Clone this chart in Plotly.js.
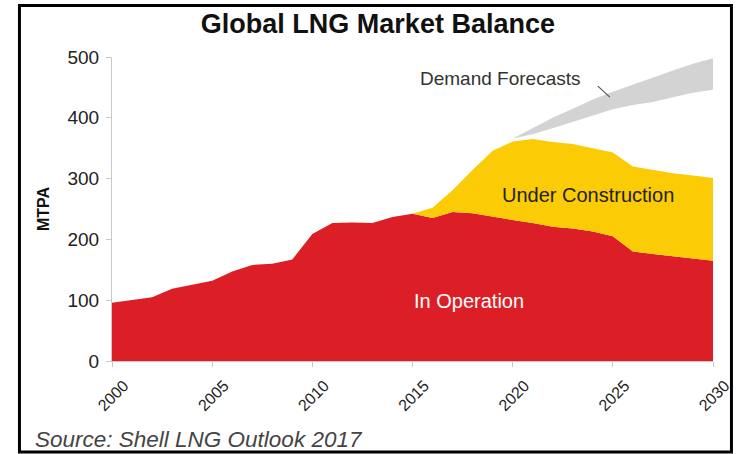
<!DOCTYPE html>
<html>
<head>
<meta charset="utf-8">
<script src="https://cdn.plot.ly/plotly-3.0.1.min.js"></script>
<style>
html,body{margin:0;padding:0;background:#fff;}
#chart{width:741px;height:454px;}
</style>
</head>
<body>
<div id="chart"></div>
<script>
// ---- data ----
const years = [2000,2001,2002,2003,2004,2005,2006,2007,2008,2009,2010,2011,2012,2013,2014,2015,
               2016,2017,2018,2019,2020,2021,2022,2023,2024,2025,2026,2027,2028,2029,2030];
const inOperation = [96,101,105,119,126,132,147,158,160,167,209,227,228,227,237,242,
                     235,245,243,237,232,227,221,218,213,205,180,176,172,168,165];
const constructionYears = [2015,2016,2017,2018,2019,2020,2021,2022,2023,2024,2025,2026,2027,2028,2029,2030];
const underConstruction = [0,17,36,71,109,129,138,139,139,137,138,140,138,137,137,136];
const demandYears = [2020,2021,2022,2023,2024,2025,2026,2027,2028,2029,2030];
const demandLow  = [366,373,383,393,403,414,421,426,434,441,446];
const demandHigh = [366,383,400,415,430,443,455,467,478,489,498];
const xTicks = [2000,2005,2010,2015,2020,2025,2030];
const yTicks = [0,100,200,300,400,500];

// ---- traces ----
const traces = [
  {x: years, y: inOperation, type:'scatter', mode:'lines', stackgroup:'supply',
   line:{width:0, color:'#DC1F26'}, fillcolor:'#DC1F26', name:'In Operation', hoverinfo:'skip'},
  {x: constructionYears, y: underConstruction, type:'scatter', mode:'lines', stackgroup:'supply',
   line:{width:0, color:'#FBCB05'}, fillcolor:'#FBCB05', name:'Under Construction', hoverinfo:'skip'},
  {x: demandYears, y: demandLow, type:'scatter', mode:'lines',
   line:{width:0, color:'#D3D3D3'}, hoverinfo:'skip', name:'Demand low'},
  {x: demandYears, y: demandHigh, type:'scatter', mode:'lines', fill:'tonexty',
   line:{width:0, color:'#D3D3D3'}, fillcolor:'#D3D3D3', hoverinfo:'skip', name:'Demand Forecasts'}
];

const font = 'Liberation Sans, Arial, sans-serif';

const layout = {
  width: 741, height: 454,
  margin: {l:112, r:28, t:57, b:93},
  paper_bgcolor:'#fff', plot_bgcolor:'#fff',
  showlegend:false,
  title: {text:'<b>Global LNG Market Balance</b>', x:0.51, xanchor:'center', y:0.948, yanchor:'middle',
          font:{family:font, size:27, color:'#111'}},
  xaxis: {range:[2000,2030], tickvals:xTicks, ticktext:xTicks.map(String), tickangle:-45,
          showgrid:false, zeroline:false, showline:true, linecolor:'#C8C8C8', linewidth:1,
          ticks:'outside', ticklen:5, tickcolor:'#C8C8C8', ticklabelshift:12, ticklabelstandoff:3,
          tickfont:{family:font, size:16, color:'#222'}},
  yaxis: {range:[0,500], tickvals:yTicks, showgrid:false, zeroline:false, showline:true,
          linecolor:'#C8C8C8', linewidth:1, ticks:'outside', ticklen:5, tickcolor:'#C8C8C8',
          ticklabelstandoff:3,
          tickfont:{family:font, size:19, color:'#222'},
          title:{text:'<b>MTPA</b>', font:{family:font, size:16, color:'#111'}, standoff:13}},
  annotations: [
    {x:2019.4, y:465, xref:'x', yref:'y', text:'Demand Forecasts', showarrow:false,
     font:{family:font, size:19, color:'#333'}},
    {x:2023.75, y:273, xref:'x', yref:'y', text:'Under Construction', showarrow:false,
     font:{family:font, size:20, color:'#222'}},
    {x:2017.8, y:99, xref:'x', yref:'y', text:'In Operation', showarrow:false,
     font:{family:font, size:20, color:'#fff'}},
    {x:0.0, xref:'paper', xanchor:'left', y:-0.258, yref:'paper', yanchor:'middle',
     text:'<i>Source: Shell LNG Outlook 2017</i>', showarrow:false,
     xshift:-79, font:{family:font, size:22.5, color:'#444'}}
  ],
  shapes: [
    {type:'line', xref:'x', yref:'y', x0:2024.25, y0:452, x1:2024.85, y1:434,
     line:{color:'#555', width:1.2}},
    {type:'rect', xref:'paper', yref:'paper', x0:-0.154, x1:1.0307, y0:-0.299, y1:1.169,
     line:{color:'#000', width:3}, fillcolor:'rgba(0,0,0,0)', layer:'below'}
  ]
};

Plotly.newPlot('chart', traces, layout, {displayModeBar:false, staticPlot:true});
</script>
</body>
</html>
